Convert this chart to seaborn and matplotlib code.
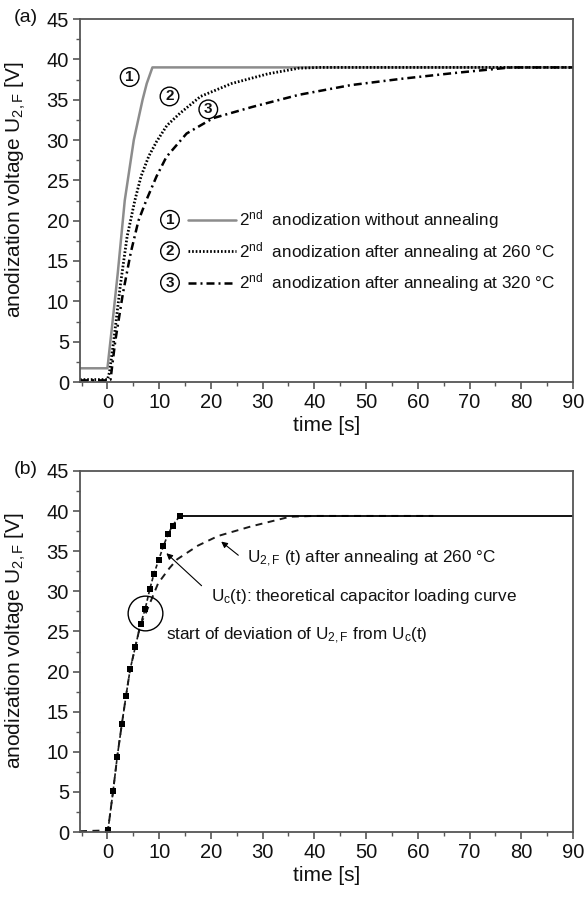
import matplotlib
matplotlib.use("Agg")
import matplotlib.pyplot as plt
import seaborn as sns
from matplotlib.lines import Line2D
from matplotlib.ticker import MultipleLocator

# ---------------- data: panel (a) ----------------
t_no_anneal = [-5.3, 0.0, 1.0, 2.0, 3.35, 5.1, 6.8, 7.6, 8.7, 90.0]
u_no_anneal = [1.7, 1.7, 7.5, 13.5, 22.5, 30.0, 35.0, 37.0, 39.0, 39.0]

t_260 = [-5.3, 0.0, 0.4, 1.2, 2.5, 3.8, 5.3, 6.5, 8.0, 9.5, 11.5, 14.0, 18.0, 24.0, 31.0, 37.0, 41.0, 90.0]
u_260 = [0.3, 0.3, 1.2, 5.0, 12.0, 18.0, 22.5, 25.5, 28.0, 29.8, 31.8, 33.3, 35.4, 37.0, 38.2, 38.9, 39.0, 39.0]

t_320 = [-5.3, 0.0, 0.6, 1.5, 3.0, 4.5, 6.0, 7.5, 9.5, 11.4, 15.3, 20.4, 28.0, 37.0, 47.0, 57.0, 67.0, 78.0, 90.0]
u_320 = [0.2, 0.2, 0.3, 5.0, 11.0, 16.0, 20.0, 22.5, 25.5, 27.9, 30.8, 32.7, 34.1, 35.6, 36.8, 37.6, 38.3, 39.0, 39.0]

legend_labels = [r"2$^{\mathrm{nd}}$  anodization without annealing",
                 r"2$^{\mathrm{nd}}$  anodization after annealing at 260 °C",
                 r"2$^{\mathrm{nd}}$  anodization after annealing at 320 °C"]
curve_numbers = ["1", "2", "3"]
number_t = [4.3, 12.0, 19.5]
number_u = [37.8, 35.4, 33.8]

# ---------------- data: panel (b) ----------------
t_uc = [0.1, 1.1, 1.9, 2.8, 3.6, 4.4, 5.4, 6.4, 7.3, 8.2, 9.0, 9.9, 10.8, 11.7, 12.6, 14.0]
u_uc = [0.2, 5.1, 9.4, 13.5, 17.0, 20.3, 23.1, 25.9, 27.8, 30.3, 32.2, 33.9, 35.6, 37.1, 38.2, 39.4]
t_uc_plateau = [14.0, 90.0]
u_uc_plateau = [39.4, 39.4]

t_u2f = [-5.3, 0.1, 1.1, 1.9, 2.8, 3.6, 4.4, 5.4, 6.4, 7.5, 9.8, 12.0, 13.5, 17.5, 21.4, 27.8, 35.3, 40.0, 63.0]
u_u2f = [0.1, 0.2, 5.1, 9.4, 13.5, 17.0, 20.3, 23.1, 25.9, 27.4, 31.0, 32.9, 34.0, 35.7, 36.9, 38.1, 39.3, 39.4, 39.4]

x_ticks = [0, 10, 20, 30, 40, 50, 60, 70, 80, 90]
y_ticks = [0, 5, 10, 15, 20, 25, 30, 35, 40, 45]

# ---------------- style ----------------
sns.set_theme(style="ticks")
plt.rcParams["font.family"] = ["Liberation Sans", "DejaVu Sans"]
plt.rcParams["mathtext.fontset"] = "custom"
plt.rcParams["mathtext.rm"] = "Liberation Sans"
plt.rcParams["mathtext.it"] = "Liberation Sans:italic"
plt.rcParams["mathtext.bf"] = "Liberation Sans:bold"

SPINE = "#555555"
TXT = "#111111"
TICK_FS = 14.5
LABEL_FS = 15
NOTE_FS = 12.3

fig = plt.figure(figsize=(5.87, 8.98), dpi=100)
W, H = 587.0, 898.0
ax1 = fig.add_axes([80 / W, 1 - 382 / H, 493 / W, 363 / H])
ax2 = fig.add_axes([80 / W, 1 - 832 / H, 493 / W, 361 / H])

ylabel = r"anodization voltage U$_{\mathrm{2,F}}$ [V]"
for ax in (ax1, ax2):
    ax.set_xlim(-5.3, 90)
    ax.set_ylim(0, 45)
    ax.set_xticks(x_ticks)
    ax.set_yticks(y_ticks)
    ax.xaxis.set_minor_locator(MultipleLocator(5))
    ax.yaxis.set_minor_locator(MultipleLocator(2.5))
    ax.tick_params(which="major", direction="out", length=5, width=1.2,
                   color=SPINE, labelsize=TICK_FS, labelcolor=TXT, pad=3)
    ax.tick_params(which="minor", direction="out", length=3, width=1.0, color=SPINE)
    for s in ax.spines.values():
        s.set_color(SPINE)
        s.set_linewidth(1.3)
    ax.set_xlabel("time [s]", fontsize=LABEL_FS, color=TXT)
    ax.set_ylabel(ylabel, fontsize=LABEL_FS, color=TXT)
    ax.yaxis.set_label_coords(-0.105, 0.53)
    ax.xaxis.set_label_coords(0.5, -0.095)

# ---------------- panel (a) ----------------
sns.lineplot(x=t_no_anneal, y=u_no_anneal, ax=ax1, sort=False, estimator=None,
             color="#8c8c8c", linewidth=1.8)
sns.lineplot(x=t_260, y=u_260, ax=ax1, sort=False, estimator=None,
             color="black", linewidth=2.0, linestyle=(0, (0.6, 0.7)))
sns.lineplot(x=t_320, y=u_320, ax=ax1, sort=False, estimator=None,
             color="black", linewidth=1.8, linestyle=(0, (3.2, 1.6, 0.8, 1.6)))

circ = dict(boxstyle="circle,pad=0.15", fc="white", ec="black", lw=1.0)
for n, tt, uu in zip(curve_numbers, number_t, number_u):
    ax1.text(tt, uu, n, ha="center", va="center", fontsize=11, fontweight="bold",
             color=TXT, bbox=circ)

handles = [Line2D([], [], color="#8c8c8c", lw=1.8),
           Line2D([], [], color="black", lw=2.0, linestyle=(0, (0.6, 0.7))),
           Line2D([], [], color="black", lw=1.8, linestyle=(0, (3.2, 1.6, 0.8, 1.6)))]
leg = ax1.legend(handles, legend_labels, loc="upper left", bbox_to_anchor=(0.219, 0.478),
                 frameon=False, fontsize=NOTE_FS, handlelength=2.8, handletextpad=0.2,
                 borderpad=0, borderaxespad=0, labelspacing=0.5)
for t in leg.get_texts():
    t.set_color(TXT)

fig.text(14 / W, 1 - 18 / H, "(a)", fontsize=14, ha="left", va="center", color=TXT)
fig.text(14 / W, 1 - 469 / H, "(b)", fontsize=14, ha="left", va="center", color=TXT)

# ---------------- panel (b) ----------------
sns.lineplot(x=t_u2f, y=u_u2f, ax=ax2, sort=False, estimator=None,
             color="#1a1a1a", linewidth=1.4, linestyle=(0, (3.6, 2.8)))
sns.lineplot(x=t_uc, y=u_uc, ax=ax2, sort=False, estimator=None,
             color="#1a1a1a", linewidth=1.2, linestyle=(0, (2.5, 1.5)),
             marker="s", markersize=4, markeredgewidth=0, markerfacecolor="black")
sns.lineplot(x=t_uc_plateau, y=u_uc_plateau, ax=ax2, sort=False, estimator=None,
             color="black", linewidth=1.3)

ax2.plot([7.2], [27.3], marker="o", markersize=25, markerfacecolor="none",
         markeredgecolor="black", markeredgewidth=1.0)

arrow = dict(arrowstyle="-|>", lw=0.8, color="black", mutation_scale=9, shrinkA=0, shrinkB=0)
ax2.annotate("", xy=(22.0, 36.2), xytext=(25.3, 34.5), arrowprops=arrow)
ax2.text(26.9, 34.0, r"U$_{\mathrm{2,F}}$ (t) after annealing at 260 °C",
         fontsize=NOTE_FS, va="center", ha="left", color=TXT)
ax2.annotate("", xy=(11.4, 34.75), xytext=(18.2, 30.7), arrowprops=arrow)
ax2.text(20.1, 29.4, r"U$_{\mathrm{c}}$(t): theoretical capacitor loading curve",
         fontsize=NOTE_FS, va="center", ha="left", color=TXT)
ax2.text(11.4, 24.4, r"start of deviation of U$_{\mathrm{2,F}}$ from U$_{\mathrm{c}}$(t)",
         fontsize=NOTE_FS, va="center", ha="left", color=TXT)

# circled numbers in the legend, aligned to the legend rows
fig.canvas.draw()
renderer = fig.canvas.get_renderer()
inv = ax1.transAxes.inverted()
for h, n in zip(leg.legend_handles, curve_numbers):
    bb = h.get_window_extent(renderer)
    yc = 0.5 * (bb.y0 + bb.y1)
    xc = bb.x0 - 18
    xa, ya = inv.transform((xc, yc))
    ax1.text(xa, ya, n, transform=ax1.transAxes, ha="center", va="center",
             fontsize=11, fontweight="bold", color=TXT, bbox=circ)

fig.savefig("out.png", dpi=100)
